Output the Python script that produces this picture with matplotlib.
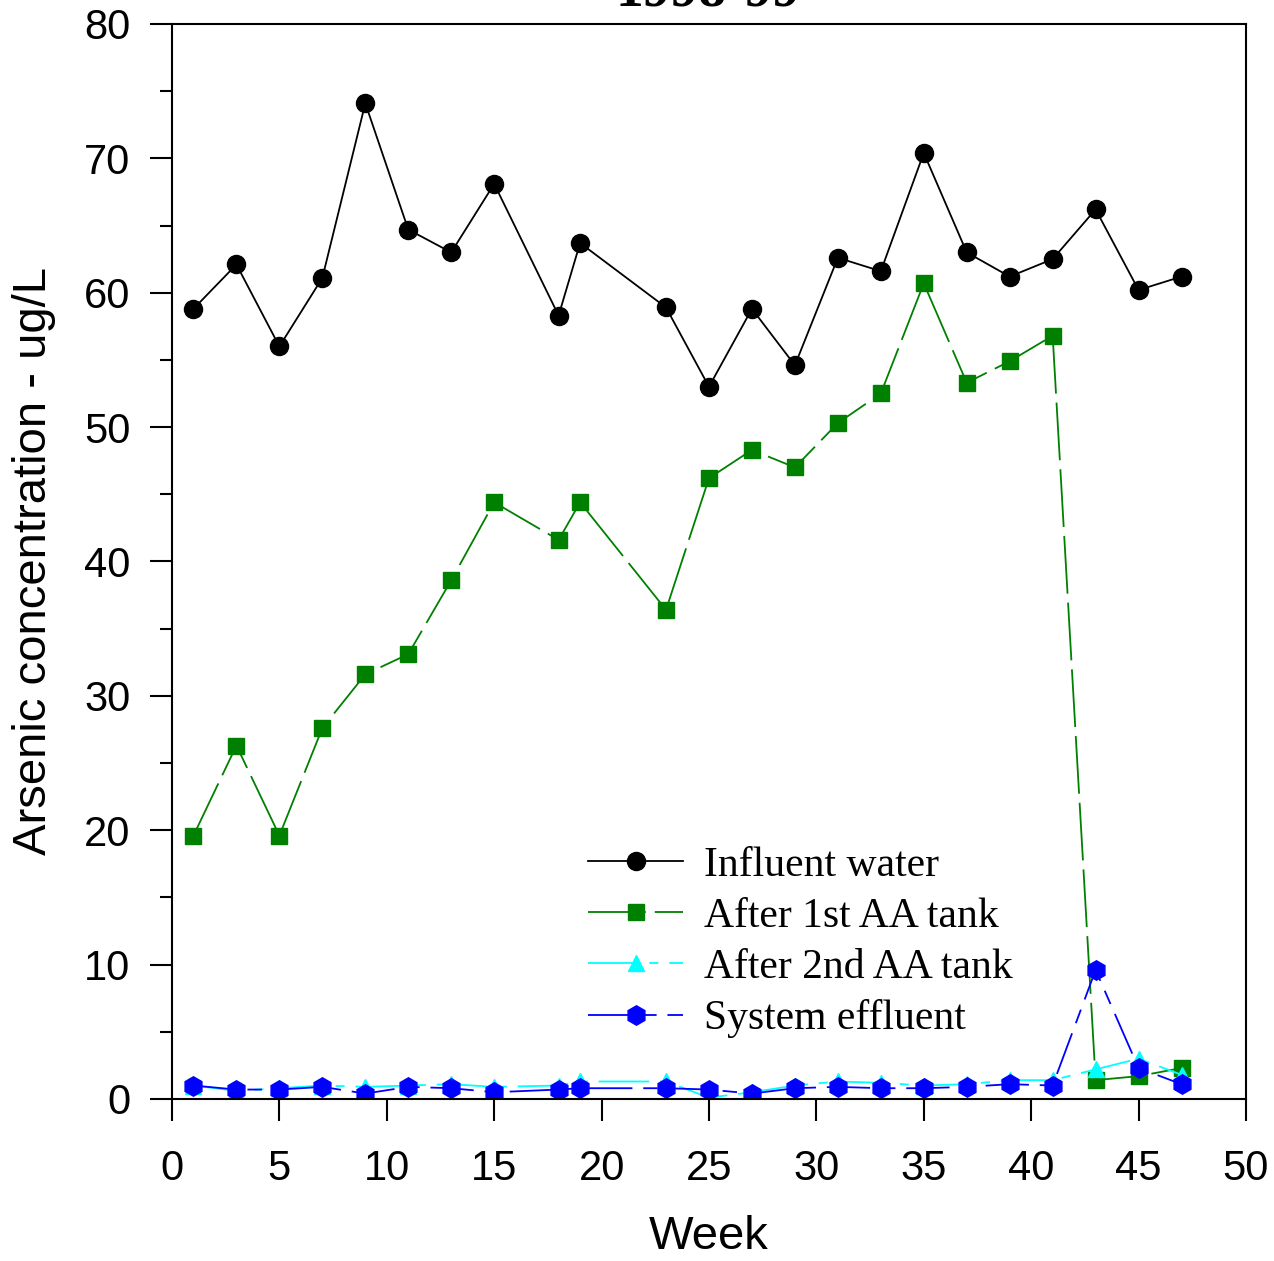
import matplotlib
matplotlib.use("Agg")
import matplotlib.pyplot as plt
from matplotlib.ticker import MultipleLocator

weeks = [1, 3, 5, 7, 9, 11, 13, 15, 18, 19, 23, 25, 27, 29, 31, 33, 35, 37, 39, 41, 43, 45, 47]

influent = [58.8, 62.1, 56.0, 61.1, 74.1, 64.7, 63.0, 68.1, 58.3, 63.7, 58.9, 53.0,
            58.8, 54.6, 62.6, 61.6, 70.4, 63.0, 61.2, 62.5, 66.2, 60.2, 61.2]
after_1st = [19.6, 26.3, 19.6, 27.6, 31.6, 33.1, 38.6, 44.4, 41.6, 44.4, 36.4, 46.2,
             48.3, 47.0, 50.3, 52.5, 60.7, 53.3, 54.9, 56.8, 1.4, 1.7, 2.3]
after_2nd = [1.0, 0.6, 0.8, 1.0, 0.9, 1.0, 1.1, 0.9, 1.0, 1.3, 1.3, 0.1,
             0.5, 1.0, 1.3, 1.2, 1.0, 1.1, 1.4, 1.4, 2.2, 3.0, 1.8]
effluent = [1.0, 0.7, 0.7, 0.9, 0.4, 0.9, 0.8, 0.5, 0.7, 0.8, 0.8, 0.7,
            0.4, 0.8, 0.9, 0.8, 0.8, 0.9, 1.1, 1.0, 9.6, 2.3, 1.1]

labels = ["Influent water", "After 1st AA tank", "After 2nd AA tank", "System effluent"]

fig = plt.figure(figsize=(12.74, 12.61), dpi=100)
ax = fig.add_axes([0.135, 0.1285, 0.843, 0.8525])

ax.plot(weeks, influent, color="black", lw=1.3, marker="o", ms=13, label=labels[0])
ax.plot(weeks, after_1st, color="green", lw=1.3, marker="s", ms=11.5,
        dashes=(32, 5), label=labels[1])
ax.plot(weeks, after_2nd, color="cyan", lw=1.3, marker="^", ms=12,
        dashes=(28, 6, 5, 6), label=labels[2])
ax.plot(weeks, effluent, color="blue", lw=1.3, marker="h", ms=14,
        dashes=(24, 6, 8, 6), label=labels[3])

ax.set_xlim(0, 50)
ax.set_ylim(0, 80)
ax.xaxis.set_major_locator(MultipleLocator(5))
ax.yaxis.set_major_locator(MultipleLocator(10))
ax.yaxis.set_minor_locator(MultipleLocator(5))
ax.tick_params(axis="both", which="major", direction="out", length=16, width=1.5,
               labelsize=30, pad=14)
ax.tick_params(axis="x", which="major", pad=20)
ax.tick_params(axis="y", which="minor", direction="out", length=8.5, width=1.5)
for lab in ax.get_xticklabels() + ax.get_yticklabels():
    lab.set_fontfamily("Liberation Sans")
for s in ax.spines.values():
    s.set_linewidth(1.5)

ax.set_xlabel("Week", fontsize=34, family="Liberation Sans", labelpad=19)
ax.set_ylabel("Arsenic concentration - ug/L", fontsize=34, family="Liberation Sans", labelpad=20)

fig.text(0.556, 1.0 - 5 / 1261, "1998-99", ha="center", va="baseline",
         fontsize=40, fontweight="bold", family="Liberation Serif")

leg = ax.legend(loc="upper left", bbox_to_anchor=(0.387, 0.235), frameon=False,
                prop={"family": "Liberation Serif", "size": 30},
                handlelength=2.3, handletextpad=0.5, labelspacing=0.3,
                borderpad=0, borderaxespad=0)

fig.savefig("out.png", dpi=100)
